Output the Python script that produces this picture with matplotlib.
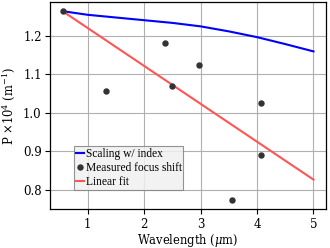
import numpy as np
import matplotlib.pyplot as plt

# measured focus shift points
meas_x = [0.553, 1.324, 2.37, 2.50, 2.97, 4.07, 4.07, 3.56]
meas_y = [1.2635, 1.0565, 1.181, 1.0696, 1.1235, 1.0243, 0.891, 0.774]

# scaling with refractive index
scale_x = [0.553, 1.0, 1.5, 2.0, 2.5, 3.0, 3.5, 4.0, 4.5, 5.0]
scale_y = [1.2635, 1.254, 1.247, 1.240, 1.233, 1.224, 1.211, 1.196, 1.178, 1.159]

# linear fit endpoints
fit_x = [0.553, 5.0]
fit_y = [1.2635, 0.826]

plt.rcParams['font.family'] = 'DejaVu Serif'
plt.rcParams['mathtext.fontset'] = 'dejavuserif'

fig = plt.figure(figsize=(3.3, 2.48), dpi=100)
ax = fig.add_axes([0.1515, 0.157, 0.8365, 0.836])

ax.plot(scale_x, scale_y, color='#0000ff', lw=1.5, label='Scaling w/ index', zorder=3)
ax.plot(meas_x, meas_y, 'o', color='#333333', ms=3.6, label='Measured focus shift', zorder=4)
ax.plot(fit_x, fit_y, color='#ff5555', lw=1.5, label='Linear fit', zorder=3)

ax.grid(True, color='#b0b0b0', lw=0.8)
ax.set_axisbelow(True)
ax.set_xticks([1, 2, 3, 4, 5])
ax.set_yticks([0.8, 0.9, 1.0, 1.1, 1.2])
ax.tick_params(labelsize=8.5, length=3.5, width=0.8)
ax.tick_params(axis='x', pad=3)
ax.tick_params(axis='y', pad=2.5)
for s in ax.spines.values():
    s.set_linewidth(0.9)

ax.set_xlabel(r'Wavelength ($\mu$m)', fontsize=8.3, labelpad=0.8)
ax.set_ylabel(r'P $\times 10^4$ (m$^{-1}$)', fontsize=8.3, labelpad=4)

leg = ax.legend(loc='lower left', bbox_to_anchor=(0.087, 0.092),
                prop={'family': 'Liberation Serif', 'size': 8.3},
                handlelength=0.7, handletextpad=0.15, labelspacing=0.2,
                borderpad=0.15, borderaxespad=0, fancybox=False,
                edgecolor='#808080', facecolor='#f0f0f0', framealpha=0.85)
leg.get_frame().set_linewidth(0.8)

fig.savefig('out.png', dpi=100)
